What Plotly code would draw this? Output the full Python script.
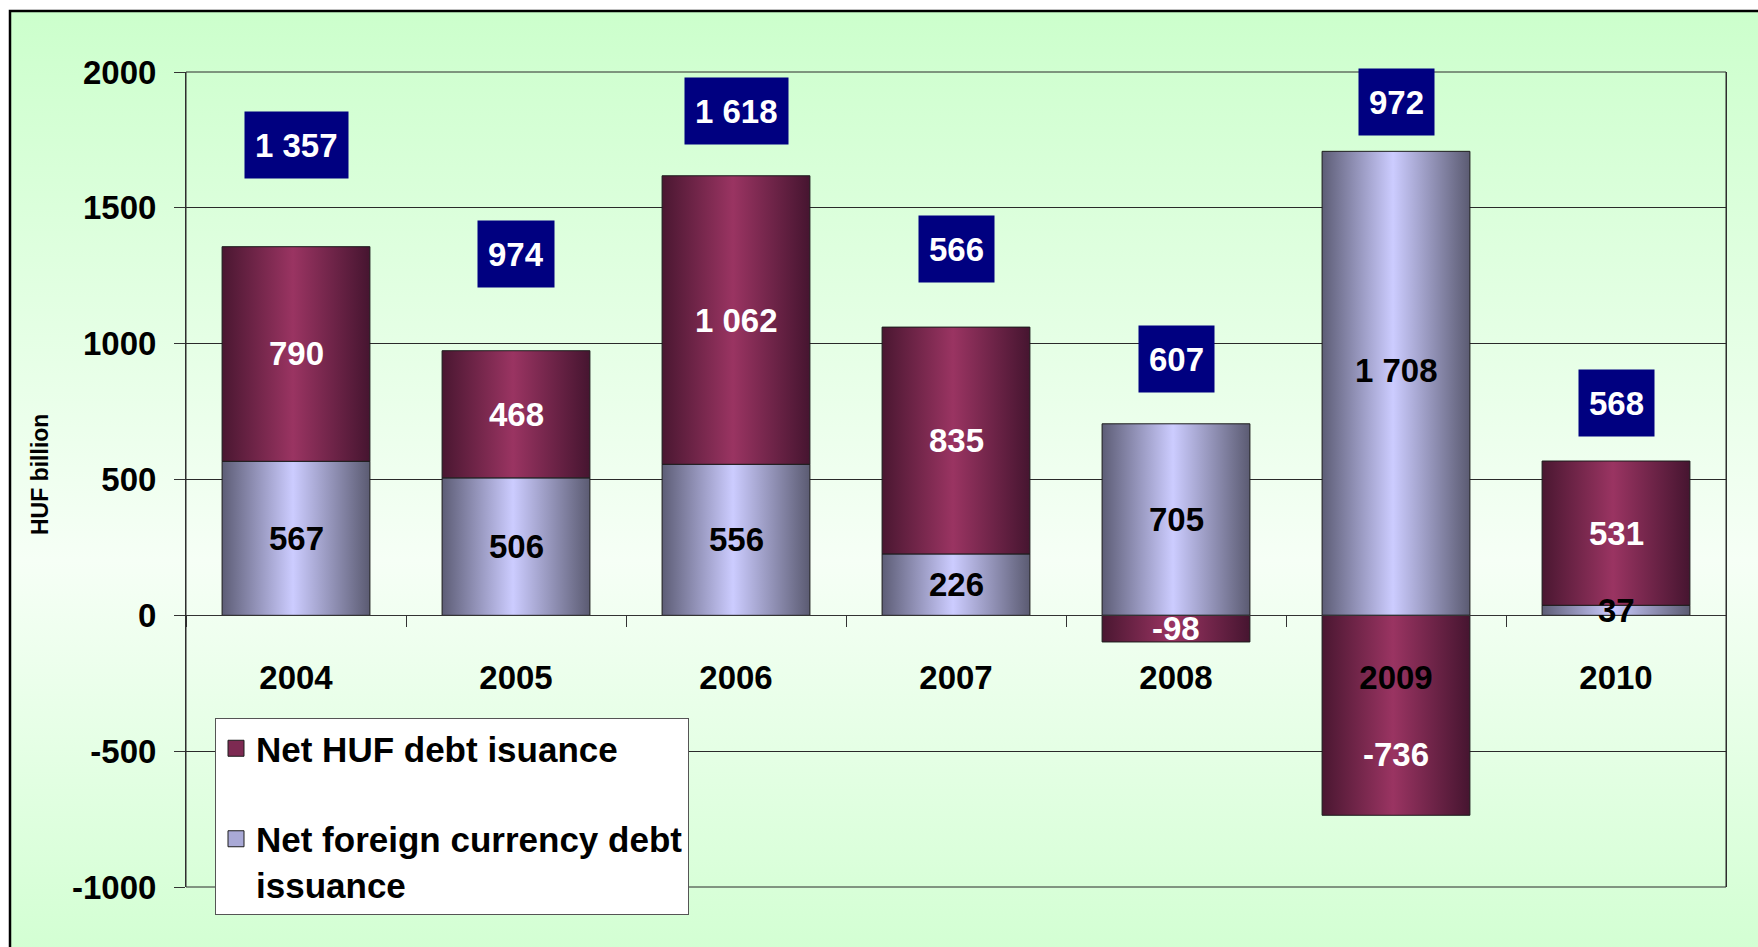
import plotly.graph_objects as go

# ---------------- data ----------------
years = ["2004", "2005", "2006", "2007", "2008", "2009", "2010"]
huf_net = [790, 468, 1062, 835, -98, -736, 531]
fx_net = [567, 506, 556, 226, 705, 1708, 37]
total_labels = [1357, 974, 1618, 566, 607, 972, 568]
series_names = ["Net HUF debt isuance", "Net foreign currency debt<br>issuance"]
y_ticks = [-1000, -500, 0, 500, 1000, 1500, 2000]

# ---------------- layout config ----------------
W, H = 1758, 947
PLOT_L, PLOT_R, PLOT_T, PLOT_B = 186, 1726, 72, 887
Y_RANGE = [-1000, 2000]
BAR_W = 0.672
total_box_y = [1730, 1330, 1855, 1350, 945, 1888, 780]   # box centre (axis units)
nudge_fx = [0, 0, 0, 0, 0, 13, 0]                        # label shifts (px)
nudge_huf = [0, 0, 0, 0, 0, -39, 0]

FONT = "Arial, Liberation Sans, sans-serif"
PURPLE_SCALE = [[0, "#4a1731"], [0.48, "#9a3462"], [1, "#461530"]]
LAV_SCALE = [[0, "#5d5d76"], [0.48, "#ccccff"], [1, "#5b5b72"]]
PURPLE_MID = "#7d2a52"
LAV_MID = "#a9a9d6"
EDGE = "#1c1c1c"


def fmt(v):
    s = f"{abs(v):,}".replace(",", " ")
    return ("-" if v < 0 else "") + s


# relative stacking (positives up, negatives down) – series order: FX then HUF
n = len(years)
pos_base = [0] * n
neg_base = [0] * n


def stack(vals):
    segs = []
    for i, v in enumerate(vals):
        if v >= 0:
            b = pos_base[i]
            pos_base[i] += v
        else:
            b = neg_base[i]
            neg_base[i] += v
        segs.append((b, b + v))
    return segs


fx_segs = stack(fx_net)
huf_segs = stack(huf_net)

fig = go.Figure()

# background gradient (full figure, subplot x/y drawn first)
bx0 = 10 / W
by1 = 1 - 11 / H
white_at = (1 - 560 / H) / by1
fig.add_trace(go.Scatter(
    x=[bx0, 1, 1, bx0, bx0], y=[0, 0, by1, by1, 0],
    mode="lines", fill="toself", line=dict(width=0),
    fillgradient=dict(type="vertical",
                      colorscale=[[0, "#d3ffd3"], [white_at, "#f6fff6"], [1, "#ccffcc"]]),
    xaxis="x", yaxis="y", showlegend=False, hoverinfo="skip"))

hw = BAR_W / 2


def add_series(segs, name, scale, mid, rank, group):
    for i, (b, t) in enumerate(segs):
        fig.add_trace(go.Scatter(
            x=[i - hw, i + hw, i + hw, i - hw, i - hw],
            y=[b, b, t, t, b],
            mode="lines", fill="toself",
            fillgradient=dict(type="horizontal", colorscale=scale),
            line=dict(color=EDGE, width=1),
            name=name, legendgroup=group,
            showlegend=False, xaxis="x2", yaxis="y2", hoverinfo="skip"))
    # legend entry
    fig.add_trace(go.Scatter(
        x=[None], y=[None], mode="markers", name=name, legendgroup=group,
        legendrank=rank, xaxis="x2", yaxis="y2",
        marker=dict(symbol="square", size=18, color=mid,
                    line=dict(color=EDGE, width=1))))


add_series(fx_segs, series_names[1], LAV_SCALE, LAV_MID, 2, "fx")
add_series(huf_segs, series_names[0], PURPLE_SCALE, PURPLE_MID, 1, "huf")

annotations = []
# segment labels
for i in range(n):
    for segs, vals, col, nud in ((fx_segs, fx_net, "black", nudge_fx),
                                 (huf_segs, huf_net, "white", nudge_huf)):
        b, t = segs[i]
        annotations.append(dict(
            x=i, y=(b + t) / 2, xref="x2", yref="y2", text=fmt(vals[i]),
            showarrow=False, yshift=nud[i],
            font=dict(family=FONT, size=33, color=col, weight="bold")))
# total boxes
for i in range(n):
    annotations.append(dict(
        x=i, y=total_box_y[i], xref="x2", yref="y2", text=fmt(total_labels[i]),
        showarrow=False, bgcolor="#000080", borderpad=10, height=46,
        font=dict(family=FONT, size=33, color="white", weight="bold")))
# y title
annotations.append(dict(
    x=40 / W, y=1 - 475 / H, xref="paper", yref="paper", text="HUF billion",
    xanchor="center", yanchor="middle", textangle=-90, showarrow=False,
    font=dict(family=FONT, size=23, color="black", weight="bold")))

xd = [PLOT_L / W, PLOT_R / W]
yd = [1 - PLOT_B / H, 1 - PLOT_T / H]
zero_pos = yd[0] + (0 - Y_RANGE[0]) / (Y_RANGE[1] - Y_RANGE[0]) * (yd[1] - yd[0])

fig.update_layout(
    width=W, height=H, margin=dict(l=0, r=0, t=0, b=0),
    paper_bgcolor="white", plot_bgcolor="rgba(0,0,0,0)",
    xaxis=dict(domain=[0, 1], range=[0, 1], visible=False, fixedrange=True),
    yaxis=dict(domain=[0, 1], range=[0, 1], visible=False, fixedrange=True),
    xaxis2=dict(
        domain=xd, range=[-0.5, n - 0.5], anchor="free", position=zero_pos,
        tickmode="array", tickvals=list(range(n)), ticktext=years,
        ticks="outside", ticklen=33, tickcolor="rgba(0,0,0,0)",
        minor=dict(tickmode="linear", tick0=-0.5, dtick=1, ticks="outside",
                   ticklen=11, tickcolor="#333333", showgrid=False),
        showline=True, linecolor="#333333", linewidth=1, showgrid=False,
        zeroline=False, automargin=False,
        tickfont=dict(family=FONT, size=33, color="black", weight="bold")),
    yaxis2=dict(
        domain=yd, range=Y_RANGE, anchor="x2", tickmode="array",
        tickvals=y_ticks, ticktext=[str(v) for v in y_ticks],
        ticks="outside", ticklen=11, tickcolor="#333333",
        showline=True, linecolor="#333333", linewidth=1, mirror=True,
        showgrid=True, gridcolor="#2a2a2a", gridwidth=1, zeroline=False,
        automargin=False, ticklabelstandoff=11,
        tickfont=dict(family=FONT, size=33, color="black", weight="bold")),
    legend=dict(
        x=215 / W, y=1 - 718 / H, xanchor="left", yanchor="top",
        bgcolor="white", bordercolor="#555555", borderwidth=1,
        font=dict(family=FONT, size=35, color="black", weight="bold"),
        tracegroupgap=42, valign="top", traceorder="grouped",
        itemsizing="trace"),
    annotations=annotations,
    shapes=[dict(type="rect", xref="paper", yref="paper",
                 x0=bx0, x1=1.02, y0=-0.02, y1=by1,
                 line=dict(color="black", width=2.5)),
            dict(type="rect", xref="x2 domain", yref="y2 domain",
                 x0=0, x1=1, y0=0, y1=1, line=dict(color="#2a2a2a", width=1))],
)

fig.write_html("out.html", config={"displayModeBar": False},
               post_script="document.body.style.margin='0';")
